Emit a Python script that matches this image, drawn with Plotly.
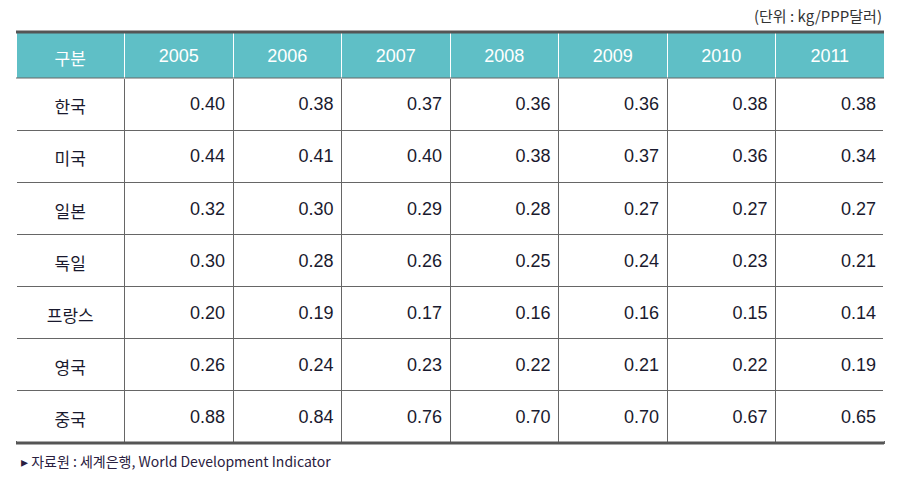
import plotly.graph_objects as go

W, H = 900, 493
years = ["2005", "2006", "2007", "2008", "2009", "2010", "2011"]
countries = ["한국", "미국", "일본", "독일", "프랑스", "영국", "중국"]
values = {
    "2005": [0.40, 0.44, 0.32, 0.30, 0.20, 0.26, 0.88],
    "2006": [0.38, 0.41, 0.30, 0.28, 0.19, 0.24, 0.84],
    "2007": [0.37, 0.40, 0.29, 0.26, 0.17, 0.23, 0.76],
    "2008": [0.36, 0.38, 0.28, 0.25, 0.16, 0.22, 0.70],
    "2009": [0.36, 0.37, 0.27, 0.24, 0.16, 0.21, 0.70],
    "2010": [0.38, 0.36, 0.27, 0.23, 0.15, 0.22, 0.67],
    "2011": [0.38, 0.34, 0.27, 0.21, 0.14, 0.19, 0.65],
}
unit_text = "(단위 : kg/PPP달러)"
source_text = "▸ 자료원 : 세계은행, World Development Indicator"

X0, X1 = 16, 884
Y_TOP, Y_HEAD, Y_BOT = 32, 78, 443
ROW_H = (Y_BOT - Y_HEAD) / len(countries)

HEAD_BG = "#5fbfc6"

def px(x):
    return x / W

def py(y):
    return 1 - y / H

num_font = "Liberation Sans, Arial, sans-serif"
kr_font = "Noto Sans CJK KR, sans-serif"

# a blank (non-breaking space) first line pushes the visible text to the row middle
def lift(s, size):
    return f"\u00a0<br><span style='font-size:{size}px'>{s}</span>"

header_vals = [lift("구분", 17)] + [lift(y, 18) for y in years]
cell_vals = [[lift(c, 17) for c in countries]] + \
            [[lift(f"{v:.2f}", 18) for v in values[y]] for y in years]

fig = go.Figure(go.Table(
    domain=dict(x=[px(X0), px(X1)], y=[py(Y_BOT + 2), py(Y_TOP)]),
    columnwidth=[1] * 8,
    header=dict(
        values=header_vals,
        fill_color=HEAD_BG,
        line=dict(color="white", width=1),
        align="center",
        height=Y_HEAD - Y_TOP,
        font=dict(family=[kr_font] + [num_font] * 7, size=10, color="white"),
    ),
    cells=dict(
        values=cell_vals,
        fill_color="white",
        line=dict(color="#666666", width=1),
        align=["center"] + ["right"] * 7,
        height=ROW_H,
        font=dict(family=[kr_font] + [num_font] * 7, size=11, color="#1a1a2e"),
    ),
))

shapes = [
    dict(type="line", xref="paper", yref="paper", x0=px(X0), x1=px(X1), y0=py(Y_TOP), y1=py(Y_TOP),
         line=dict(color="#555555", width=3)),
    dict(type="line", xref="paper", yref="paper", x0=px(X0), x1=px(X1), y0=py(Y_BOT), y1=py(Y_BOT),
         line=dict(color="#555555", width=3)),
    dict(type="line", xref="paper", yref="paper", x0=px(X0), x1=px(X1), y0=py(Y_HEAD), y1=py(Y_HEAD),
         line=dict(color="#666666", width=1)),
    dict(type="line", xref="paper", yref="paper", x0=px(X0), x1=px(X0), y0=py(Y_HEAD + 1), y1=py(Y_BOT - 2),
         line=dict(color="white", width=2)),
    dict(type="line", xref="paper", yref="paper", x0=px(X1), x1=px(X1), y0=py(Y_HEAD + 1), y1=py(Y_BOT - 2),
         line=dict(color="white", width=2)),
]

annotations = [
    dict(text=unit_text, xref="paper", yref="paper", x=px(X1), y=py(15), xanchor="right", yanchor="middle",
         showarrow=False, font=dict(family=kr_font, size=15, color="#333333")),
    dict(text=source_text, xref="paper", yref="paper", x=px(19), y=py(461), xanchor="left", yanchor="middle",
         showarrow=False, font=dict(family=kr_font, size=14, color="#2a2040")),
]

fig.update_layout(
    width=W, height=H, margin=dict(l=0, r=0, t=0, b=0),
    paper_bgcolor="white", plot_bgcolor="white",
    shapes=shapes, annotations=annotations,
)
fig.write_html("out.html", config={"displayModeBar": False},
               post_script="document.body.style.margin='0';")
